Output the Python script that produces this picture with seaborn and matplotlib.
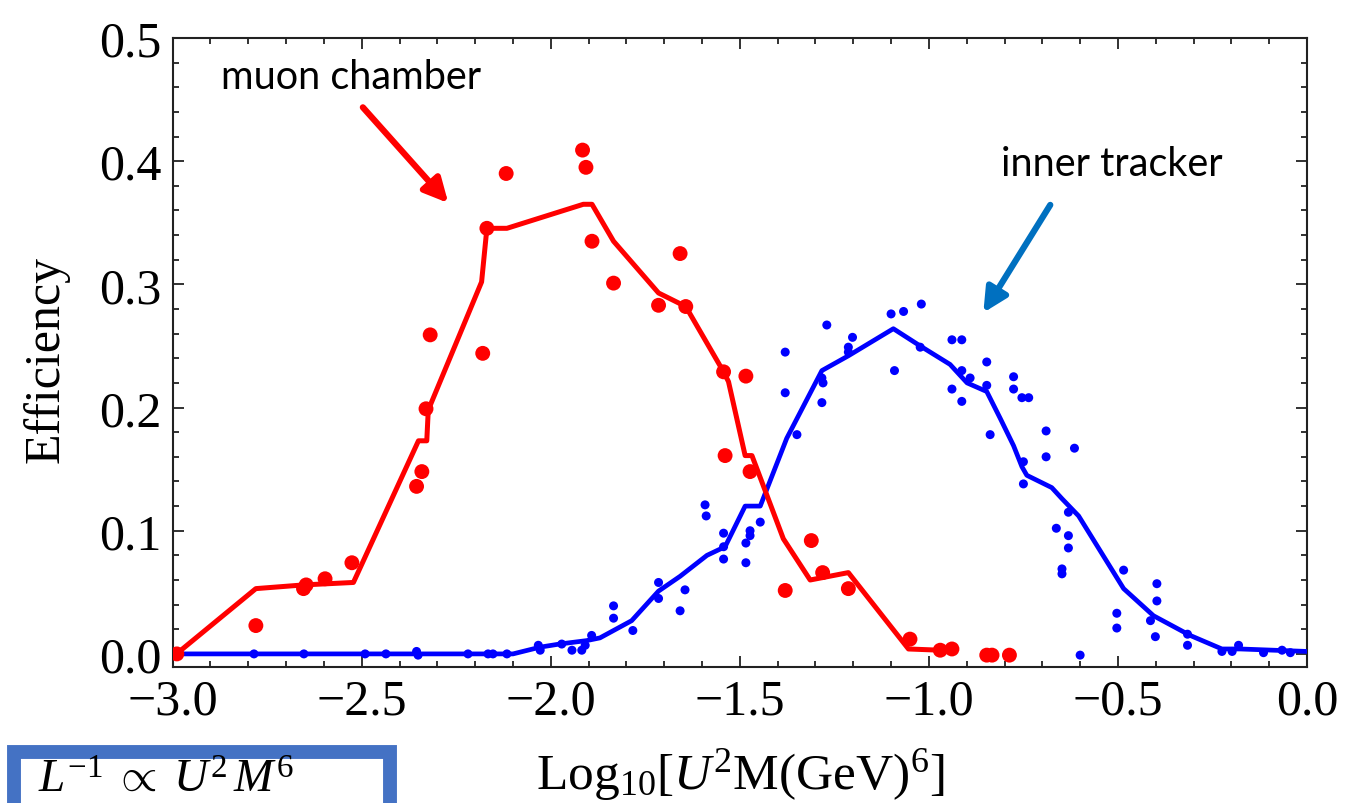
import matplotlib
matplotlib.use("Agg")
import matplotlib.pyplot as plt
from matplotlib.patches import Rectangle
from matplotlib.ticker import MultipleLocator
import seaborn as sns
import pandas as pd

# ---------------- data ----------------
muon_line_x = [-2.99, -2.78, -2.654, -2.522, -2.350, -2.328, -2.324, -2.183, -2.169, -2.116,
               -1.914, -1.891, -1.834, -1.715, -1.643, -1.543, -1.530, -1.486, -1.468,
               -1.385, -1.314, -1.213, -1.054, -0.970, -0.935]
muon_line_y = [0.0, 0.053, 0.056, 0.058, 0.173, 0.173, 0.198, 0.302, 0.3455, 0.3455,
               0.365, 0.365, 0.335, 0.293, 0.282, 0.229, 0.221, 0.161, 0.161,
               0.0935, 0.060, 0.066, 0.004, 0.003, 0.0035]

muon_pts_x = [-2.989, -2.780, -2.654, -2.647, -2.597, -2.526, -2.355, -2.341, -2.330, -2.319,
              -2.180, -2.169, -2.118, -1.916, -1.907, -1.891, -1.834, -1.658, -1.715, -1.643,
              -1.543, -1.484, -1.539, -1.473, -1.311, -1.380, -1.281, -1.213, -1.050, -0.970,
              -0.939, -0.847, -0.833, -0.787]
muon_pts_y = [0.0, 0.023, 0.053, 0.056, 0.061, 0.074, 0.136, 0.148, 0.199, 0.259,
              0.244, 0.3455, 0.390, 0.409, 0.395, 0.335, 0.301, 0.325, 0.283, 0.282,
              0.229, 0.2255, 0.161, 0.148, 0.092, 0.0515, 0.066, 0.053, 0.012, 0.003,
              0.004, -0.001, -0.001, -0.001]

tracker_line_x = [-3.0, -2.100, -2.028, -1.975, -1.905, -1.870, -1.786, -1.715, -1.658, -1.587,
                  -1.539, -1.486, -1.446, -1.376, -1.283, -1.213, -1.094, -1.023, -0.944,
                  -0.899, -0.847, -0.811, -0.776, -0.754, -0.741, -0.675, -0.648, -0.604,
                  -0.485, -0.406, -0.309, -0.225, -0.176, 0.0]
tracker_line_y = [0.0, 0.0, 0.0055, 0.0081, 0.0108, 0.013, 0.027, 0.051, 0.063, 0.080,
                  0.087, 0.120, 0.120, 0.175, 0.230, 0.242, 0.264, 0.250, 0.235,
                  0.220, 0.213, 0.191, 0.169, 0.152, 0.145, 0.135, 0.126, 0.112,
                  0.053, 0.031, 0.015, 0.004, 0.004, 0.002]

tracker_pts_x = [-2.785, -2.653, -2.491, -2.436, -2.355, -2.351, -2.219, -2.166, -2.153, -2.116,
                 -2.033, -2.028, -1.971, -1.944, -1.918, -1.909, -1.892, -1.834, -1.834, -1.783,
                 -1.715, -1.715, -1.658, -1.645, -1.592, -1.589, -1.543, -1.543, -1.543, -1.484,
                 -1.484, -1.473, -1.473, -1.446, -1.380, -1.380, -1.349, -1.283, -1.283, -1.280,
                 -1.270, -1.202, -1.213, -1.213, -1.100, -1.067, -1.020, -1.091, -1.023, -0.939,
                 -0.913, -0.939, -0.913, -0.891, -0.913, -0.847, -0.847, -0.838, -0.776, -0.776,
                 -0.754, -0.736, -0.690, -0.690, -0.615, -0.750, -0.750, -0.663, -0.631, -0.631,
                 -0.648, -0.648, -0.631, -0.600, -0.485, -0.503, -0.503, -0.397, -0.397, -0.414,
                 -0.401, -0.316, -0.316, -0.225, -0.198, -0.181, -0.115, -0.066, -0.044]
tracker_pts_y = [0.0, 0.0, 0.0, 0.0, 0.002, -0.001, 0.0, 0.0, 0.0, 0.0,
                 0.007, 0.003, 0.008, 0.003, 0.003, 0.007, 0.015, 0.039, 0.029, 0.019,
                 0.058, 0.045, 0.035, 0.052, 0.121, 0.112, 0.098, 0.087, 0.077, 0.090,
                 0.074, 0.100, 0.096, 0.107, 0.245, 0.212, 0.178, 0.204, 0.224, 0.220,
                 0.267, 0.257, 0.249, 0.245, 0.276, 0.278, 0.284, 0.230, 0.249, 0.255,
                 0.255, 0.215, 0.205, 0.224, 0.230, 0.237, 0.218, 0.178, 0.225, 0.215,
                 0.208, 0.208, 0.181, 0.160, 0.167, 0.156, 0.138, 0.102, 0.096, 0.086,
                 0.069, 0.065, 0.115, -0.001, 0.068, 0.033, 0.021, 0.057, 0.043, 0.027,
                 0.014, 0.007, 0.016, 0.002, 0.002, 0.007, 0.001, 0.003, 0.001]

x_ticks = [-3.0, -2.5, -2.0, -1.5, -1.0, -0.5, 0.0]
y_ticks = [0.0, 0.1, 0.2, 0.3, 0.4, 0.5]

RED = "#FF0000"
BLUE = "#0000FF"
ARROW_BLUE = "#0070C0"

# ---------------- style ----------------
sns.set_theme(style="white")
plt.rcParams["font.family"] = ["Liberation Serif", "DejaVu Serif"]
plt.rcParams["mathtext.fontset"] = "custom"
plt.rcParams["mathtext.rm"] = "Liberation Serif"
plt.rcParams["mathtext.it"] = "Liberation Serif:italic"
plt.rcParams["mathtext.bf"] = "Liberation Serif:bold"
plt.rcParams["axes.unicode_minus"] = True
plt.rcParams["text.color"] = "black"
plt.rcParams["axes.labelcolor"] = "black"
plt.rcParams["xtick.color"] = "black"
plt.rcParams["ytick.color"] = "black"

fig = plt.figure(figsize=(13.47, 8.04), dpi=100)
ax = fig.add_axes([0.1282, 0.1692, 0.8421, 0.7823])

muon_line = pd.DataFrame({"x": muon_line_x, "y": muon_line_y})
muon_pts = pd.DataFrame({"x": muon_pts_x, "y": muon_pts_y})
trk_line = pd.DataFrame({"x": tracker_line_x, "y": tracker_line_y})
trk_pts = pd.DataFrame({"x": tracker_pts_x, "y": tracker_pts_y})

sns.lineplot(data=trk_line, x="x", y="y", sort=False, estimator=None, color=BLUE,
             linewidth=3.4, ax=ax, zorder=3)
sns.scatterplot(data=trk_pts, x="x", y="y", color=BLUE, s=42, edgecolor="none",
                ax=ax, zorder=4)
sns.lineplot(data=muon_line, x="x", y="y", sort=False, estimator=None, color=RED,
             linewidth=3.6, ax=ax, zorder=5)
sns.scatterplot(data=muon_pts, x="x", y="y", color=RED, s=115, edgecolor="none",
                ax=ax, zorder=6)

ax.set_xlim(-3.0, 0.0)
ax.set_ylim(-0.0106, 0.5)
ax.set_xticks(x_ticks)
ax.set_yticks(y_ticks)
ax.set_xticklabels([f"{v:.1f}".replace("-", "\u2212") for v in x_ticks])
ax.set_yticklabels([f"{v:.1f}" for v in y_ticks])
ax.xaxis.set_minor_locator(MultipleLocator(0.1))
ax.yaxis.set_minor_locator(MultipleLocator(0.02))
ax.tick_params(which="both", direction="in", top=True, right=True, bottom=True, left=True,
               color="#222222", width=1.3)
ax.tick_params(which="major", length=8, labelsize=36, pad=8)
ax.tick_params(which="minor", length=4.5)
for s in ax.spines.values():
    s.set_color("#222222")
    s.set_linewidth(1.5)

ax.set_xlabel(r"Log$_{10}$[$U^2$M(GeV)$^6$]", fontsize=37, va="center")
ax.xaxis.set_label_coords(0.5, -0.170)
ax.set_ylabel("Efficiency", fontsize=36, va="center")
ax.yaxis.set_label_coords(-0.112, 0.49)

# annotations
ax.text(-2.528, 0.469, "muon chamber", fontsize=28.5, family=["Lato", "DejaVu Sans"],
        ha="center", va="center")
ax.text(-0.515, 0.398, "inner tracker", fontsize=28.5, family=["Lato", "DejaVu Sans"],
        ha="center", va="center")
ax.annotate("", xy=(-2.271, 0.366), xytext=(-2.497, 0.4437),
            arrowprops=dict(arrowstyle="-|>,head_length=0.8,head_width=0.4", color=RED,
                            lw=4.5, shrinkA=0, shrinkB=0, mutation_scale=18))
ax.annotate("", xy=(-0.856, 0.277), xytext=(-0.679, 0.3645),
            arrowprops=dict(arrowstyle="-|>,head_length=0.8,head_width=0.4", color=ARROW_BLUE,
                            lw=4.5, shrinkA=0, shrinkB=0, mutation_scale=18))

# bottom-left formula box (box runs past the figure edge, as in the reference)
W, H = 1347.0, 804.0
box = Rectangle((14 / W, (H - 840) / H), (390 - 14) / W, (840 - 753) / H,
                transform=fig.transFigure, facecolor="white", edgecolor="#4472C4",
                linewidth=10, clip_on=False, zorder=10)
fig.add_artist(box)
fig.text(38 / W, (H - 791) / H, r"$L^{-1}\;\propto\;U^{2}\,M^{6}$", fontsize=34,
         ha="left", va="baseline", zorder=11)

fig.savefig("out.png", dpi=100)
